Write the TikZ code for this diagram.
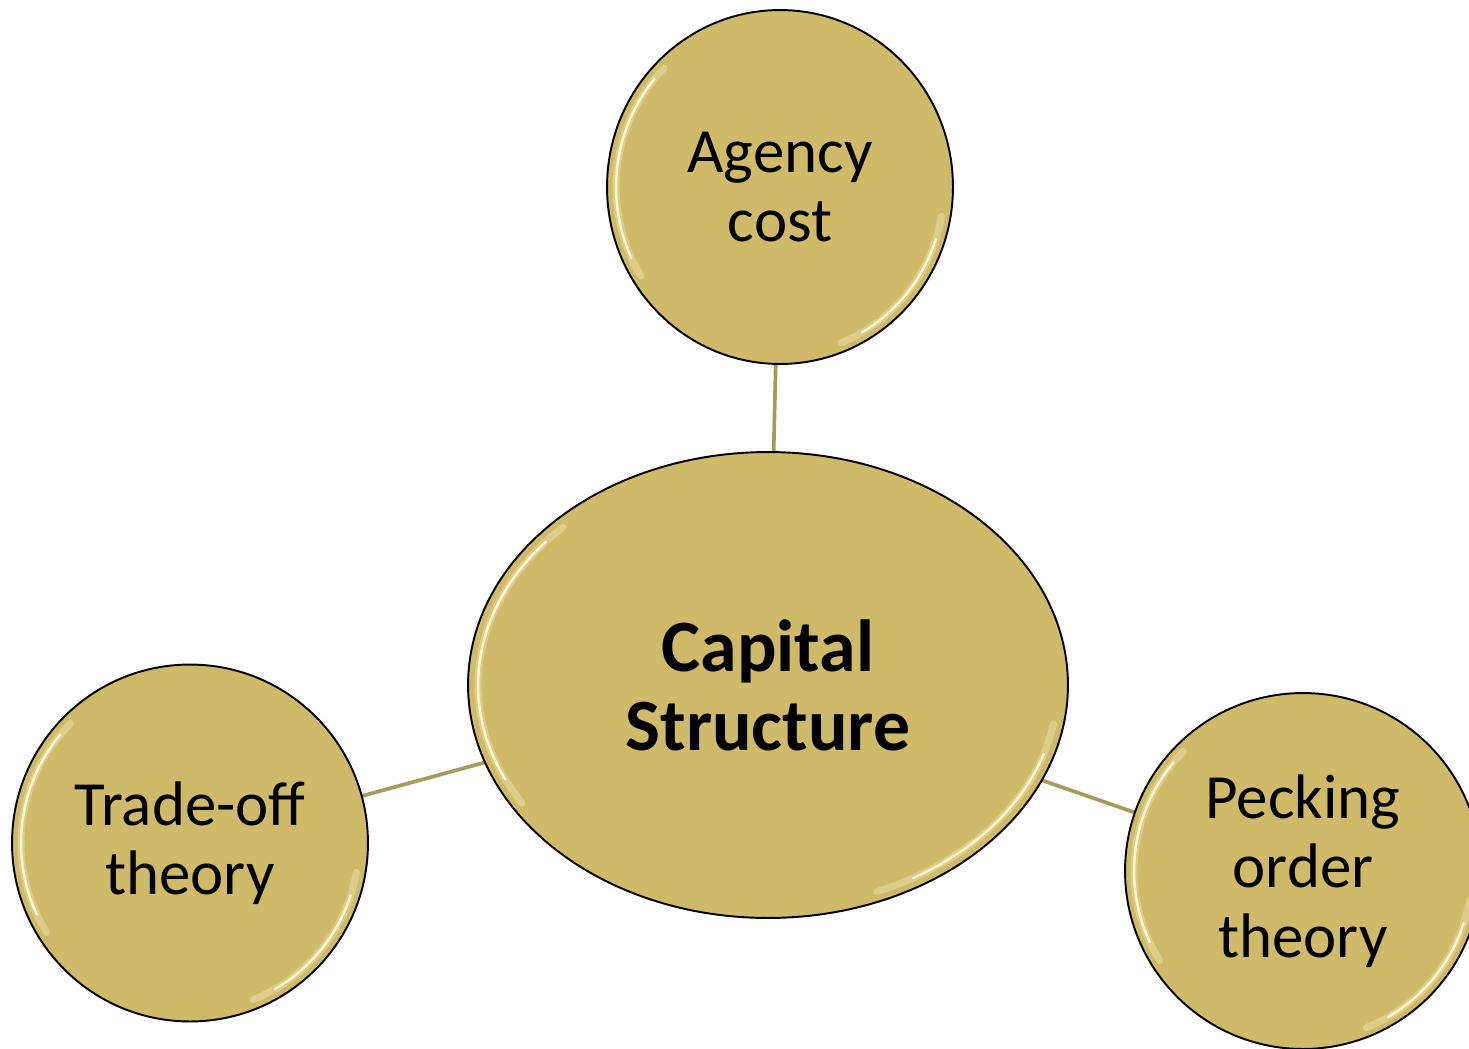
\documentclass[tikz,border=0pt]{standalone}
\usepackage{fontspec}
\setmainfont{Carlito}
\usetikzlibrary{shapes.geometric,backgrounds}
\definecolor{goldfill}{RGB}{207,186,106}
\definecolor{linkc}{RGB}{168,154,90}
\definecolor{shinec}{RGB}{255,250,215}
\newcommand\glint[3]{%
  \draw[shinesoft] (#1.center) ++(135:#2 and #3) arc[start angle=135,end angle=212,x radius=#2,y radius=#3];
  \draw[shine] (#1.center) ++(140:#2 and #3) arc[start angle=140,end angle=205,x radius=#2,y radius=#3];
  \draw[shinesoft] (#1.center) ++(292:#2 and #3) arc[start angle=292,end angle=350,x radius=#2,y radius=#3];
  \draw[shine] (#1.center) ++(300:#2 and #3) arc[start angle=300,end angle=342,x radius=#2,y radius=#3];}
\begin{document}
\begin{tikzpicture}[x=0.02cm,y=-0.02cm,
  bubble/.style={ellipse, draw=black, line width=1.1pt, fill=goldfill, inner sep=0pt,
    align=center, font=\fontsize{35.8}{39.5}\selectfont},
  linkline/.style={draw=linkc, line width=2.1pt},
  shine/.style={draw=shinec, line width=1.4pt, opacity=0.9, line cap=round},
  shinesoft/.style={draw=shinec, line width=4pt, opacity=0.3, line cap=round}]
\useasboundingbox (0,0) rectangle (1469,1048);
\node[bubble, minimum width=12cm, minimum height=9.32cm,
  font=\fontsize{42}{45}\selectfont\bfseries] (cs) at (768,685) {Capital\\Structure};
\node[bubble, minimum width=6.92cm, minimum height=7.08cm] (ac) at (780,187) {Agency\\cost};
\node[bubble, minimum width=7.12cm, minimum height=7.14cm] (to) at (190,843) {Trade-off\\theory};
\node[bubble, minimum width=7.12cm, minimum height=7.12cm] (po) at (1303,871) {Pecking\\order\\theory};
\begin{scope}[on background layer]
  \draw[linkline] (cs.center) -- (ac.center);
  \draw[linkline] (cs.center) -- (to.center);
  \draw[linkline] (cs.center) -- (po.center);
\end{scope}
\glint{cs}{5.8cm}{4.46cm}
\glint{ac}{3.28cm}{3.36cm}
\glint{to}{3.38cm}{3.38cm}
\glint{po}{3.38cm}{3.38cm}
\end{tikzpicture}
\end{document}
